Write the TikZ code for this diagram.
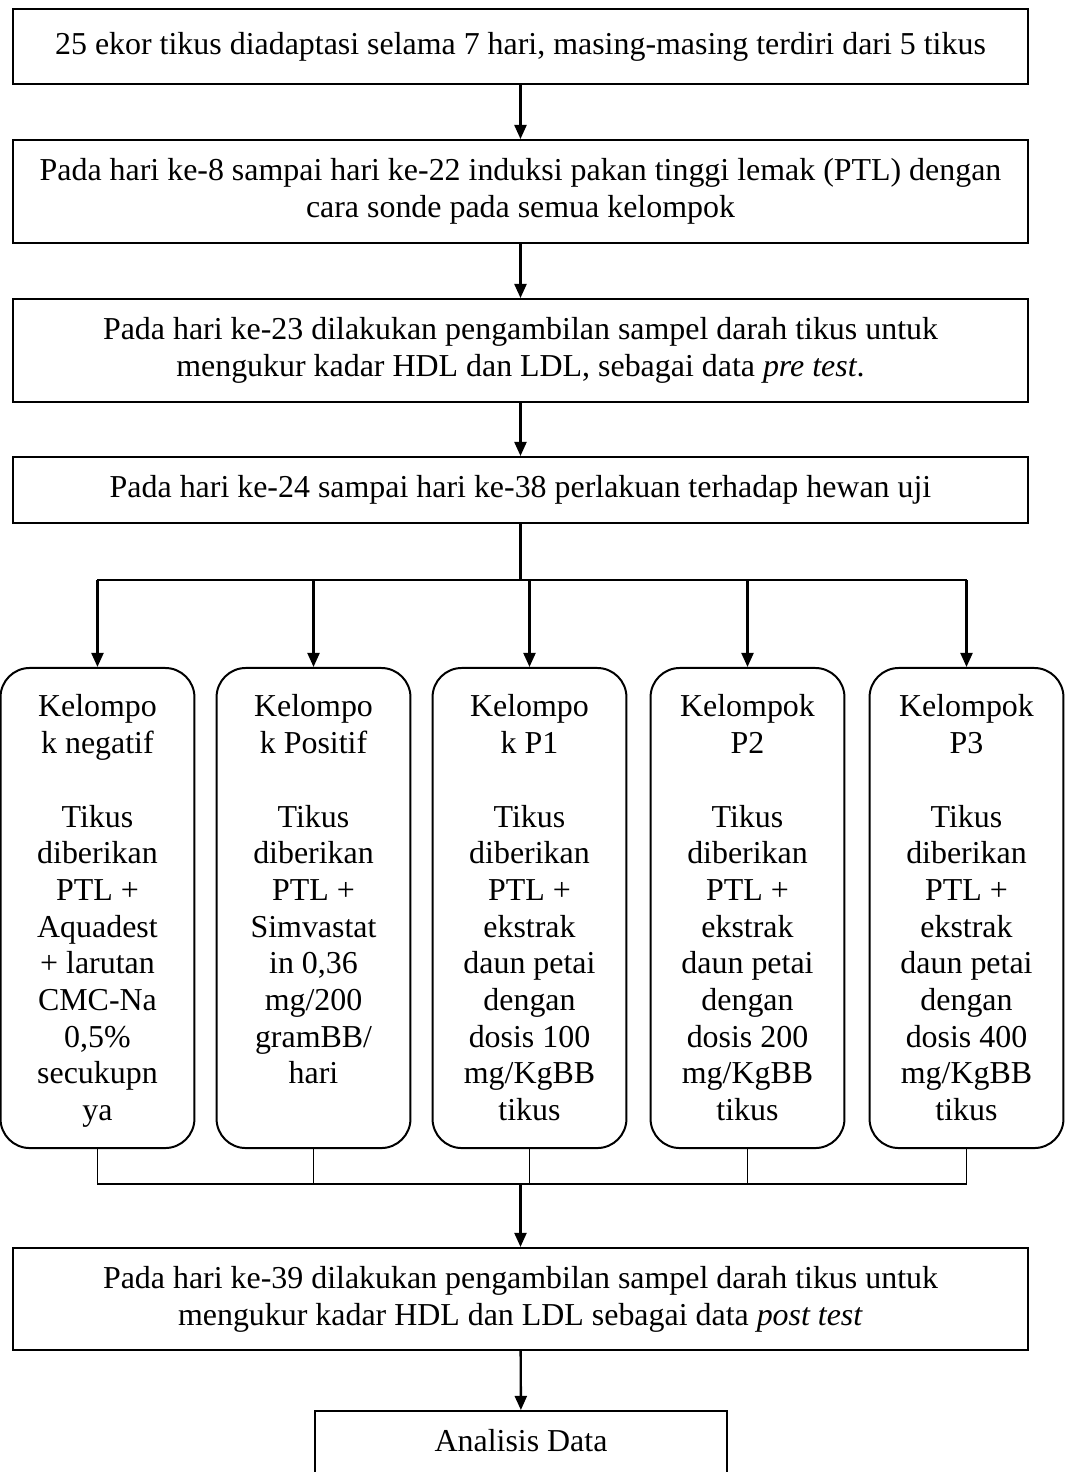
\documentclass[tikz,border=0pt]{standalone}
\usepackage{fontspec}
\setmainfont{Liberation Serif}
\usetikzlibrary{arrows.meta}

\begin{document}
\begin{tikzpicture}[
    font=\fontsize{12pt}{13.8pt}\selectfont,
    stepbox/.style={draw, line width=0.75pt, align=flush center, minimum width=381.6pt},
    groupbox/.style={draw, line width=0.75pt, rounded corners=11pt, anchor=north,
      text width=66pt, align=flush center, inner xsep=3.45pt, inner ysep=8.4pt,
      text height=10pt, text depth=153.7pt},
    arrow/.style={line width=0.9pt, -{Triangle[length=5.3pt, width=4.5pt]}},
    joinline/.style={line width=0.5pt}
  ]
  \useasboundingbox (0,0) rectangle (14.087,-19.452);
  % tahap awal
  \node[stepbox, minimum height=28.2pt] (adapt) at (6.878,-0.614)
    {25 ekor tikus diadaptasi selama 7 hari, masing-masing terdiri dari 5 tikus};
  \node[stepbox, minimum height=38.7pt] (induksi) at (6.878,-2.531)
    {Pada hari ke-8 sampai hari ke-22 induksi pakan tinggi lemak (PTL) dengan\\
     cara sonde pada semua kelompok};
  \node[stepbox, minimum height=38.7pt] (pretest) at (6.878,-4.632)
    {Pada hari ke-23 dilakukan pengambilan sampel darah tikus untuk\\
     mengukur kadar HDL dan LDL, sebagai data \textit{pre test}.};
  \node[stepbox, minimum height=24.8pt] (perlakuan) at (6.878,-6.475)
    {Pada hari ke-24 sampai hari ke-38 perlakuan terhadap hewan uji};
  \draw[arrow] (adapt) -- (induksi);
  \draw[arrow] (induksi) -- (pretest);
  \draw[arrow] (pretest) -- (perlakuan);

  % kelompok perlakuan
  \node[groupbox] (gneg) at (1.288,-8.814)
    {Kelompo\\k negatif\\[13.8pt]Tikus\\diberikan\\PTL +\\Aquadest\\+ larutan\\CMC-Na\\0,5\%\\secukupn\\ya};
  \node[groupbox] (gpos) at (4.143,-8.814)
    {Kelompo\\k Positif\\[13.8pt]Tikus\\diberikan\\PTL +\\Simvastat\\in 0,36\\mg/200\\gramBB/\\hari};
  \node[groupbox] (gp1) at (6.997,-8.814)
    {Kelompo\\k P1\\[13.8pt]Tikus\\diberikan\\PTL +\\ekstrak\\daun petai\\dengan\\dosis 100\\mg/KgBB\\tikus};
  \node[groupbox] (gp2) at (9.878,-8.814)
    {Kelompok\\P2\\[13.8pt]Tikus\\diberikan\\PTL +\\ekstrak\\daun petai\\dengan\\dosis 200\\mg/KgBB\\tikus};
  \node[groupbox] (gp3) at (12.772,-8.814)
    {Kelompok\\P3\\[13.8pt]Tikus\\diberikan\\PTL +\\ekstrak\\daun petai\\dengan\\dosis 400\\mg/KgBB\\tikus};

  \coordinate (split) at (6.878,-7.665);
  \draw[line width=0.9pt] (perlakuan.south) -- (perlakuan.south |- split);
  \draw[line width=0.9pt] (gneg.north |- split) -- (gp3.north |- split);
  \foreach \g in {gneg,gpos,gp1,gp2,gp3}
    \draw[arrow] (\g.north |- split) -- (\g.north);

  % tahap akhir
  \node[stepbox, minimum height=38.4pt] (posttest) at (6.878,-17.166)
    {Pada hari ke-39 dilakukan pengambilan sampel darah tikus untuk\\
     mengukur kadar HDL dan LDL sebagai data \textit{post test}};
  \node[draw, line width=0.75pt, anchor=north, minimum width=154.9pt, minimum height=28pt,
    text depth=6pt] (analisis) at (6.885,-18.633) {Analisis Data};

  \coordinate (join) at (6.878,-15.647);
  \foreach \g in {gneg,gpos,gp1,gp2,gp3}
    \draw[joinline] (\g.south) -- (\g.south |- join);
  \draw[joinline] (gneg.south |- join) -- (gp3.south |- join);
  \draw[arrow] (posttest.north |- join) -- (posttest);
  \draw[arrow] (posttest) -- (analisis);
\end{tikzpicture}
\end{document}
